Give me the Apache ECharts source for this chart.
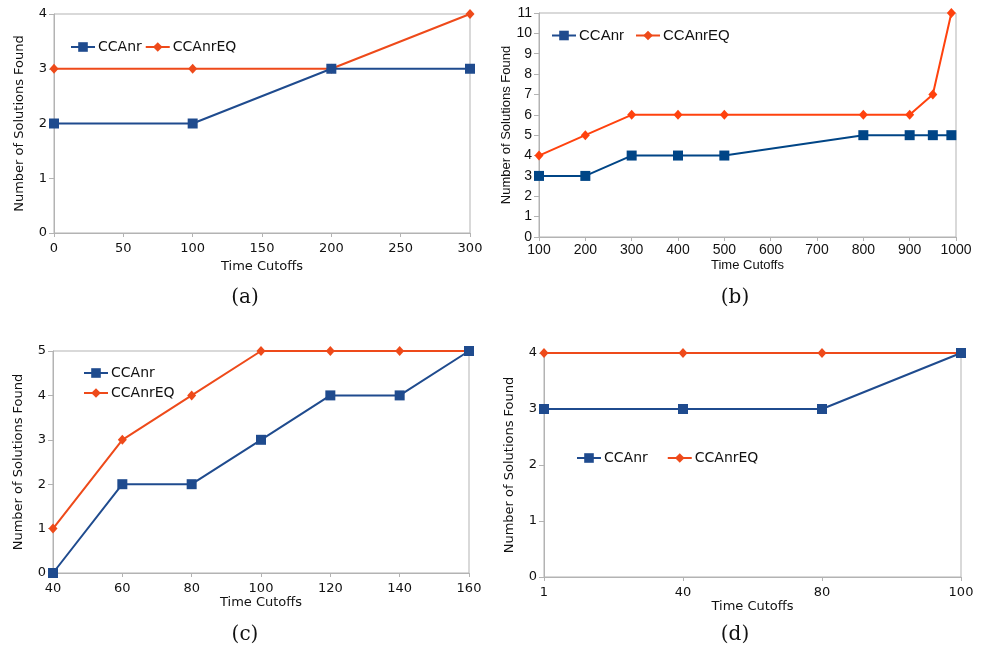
<!DOCTYPE html>
<html>
<head>
<meta charset="utf-8">
<script src="https://cdn.jsdelivr.net/npm/echarts@6/dist/echarts.min.js"></script>
<style>
  html, body { margin: 0; padding: 0; background: #ffffff; }
  #main { width: 984px; height: 648px; }
</style>
</head>
<body>
<div id="main"></div>
<script>
// (a)
const aTime = [0, 100, 200, 300];
const aCCAnr = [2, 2, 3, 3];
const aCCAnrEQ = [3, 3, 3, 4];
// (b)
const bTime = [100, 200, 300, 400, 500, 800, 900, 950, 990];
const bCCAnr = [3, 3, 4, 4, 4, 5, 5, 5, 5];
const bCCAnrEQ = [4, 5, 6, 6, 6, 6, 6, 7, 11];
// (c)
const cTime = [40, 60, 80, 100, 120, 140, 160];
const cCCAnr = [0, 2, 2, 3, 4, 4, 5];
const cCCAnrEQ = [1, 3, 4, 5, 5, 5, 5];
// (d) categories, evenly spaced
const dTime = ["1", "40", "80", "100"];
const dCCAnr = [3, 3, 3, 4];
const dCCAnrEQ = [4, 4, 4, 4];

const captions = ["(a)", "(b)", "(c)", "(d)"];

const chart = echarts.init(document.getElementById("main"));

const dejavu = "DejaVu Sans";
const libera = "Liberation Sans";
const gray = "#b3b3b3";
const ink = "#111111";

// colours differ slightly between panels
const blueA = "#1f4b8e", redA = "#ee4a1a";
const blueB = "#004586", redB = "#ff420e";

function xy(time, vals) {
  return time.map((t, i) => [t, vals[i]]);
}

function mkSeries(name, idx, data, color, isEQ) {
  return {
    name: name,
    type: "line",
    xAxisIndex: idx,
    yAxisIndex: idx,
    data: data,
    symbol: isEQ ? "diamond" : "rect",
    symbolSize: isEQ ? [9, 10] : 10,
    lineStyle: { color: color, width: 2 },
    itemStyle: { color: color },
    animation: false,
    z: isEQ ? 2 : 3,
  };
}

function yAx(idx, max, font) {
  return {
    gridIndex: idx,
    type: "value",
    min: 0,
    max: max,
    interval: 1,
    name: "Number of Solutions Found",
    nameLocation: "middle",
    nameGap: font === libera ? 22 : 28,
    nameTextStyle: { fontFamily: font, fontSize: 13, color: ink },
    axisLine: { show: true, lineStyle: { color: gray } },
    axisTick: { show: true, length: 5, lineStyle: { color: gray } },
    axisLabel: { fontFamily: font, fontSize: font === libera ? 14 : 13, color: ink, margin: 7 },
    splitLine: { show: false },
  };
}

function xAx(idx, cfg, font, gap, margin) {
  return Object.assign({
    gridIndex: idx,
    name: "Time Cutoffs",
    nameLocation: "middle",
    nameGap: gap,
    nameTextStyle: { fontFamily: font, fontSize: 13, color: ink },
    axisLine: { show: true, lineStyle: { color: gray } },
    axisTick: { show: true, length: 4, lineStyle: { color: gray } },
    axisLabel: {
      fontFamily: font,
      fontSize: font === libera ? 14 : 13,
      color: ink,
      margin: margin,
      formatter: (v) => String(v),
    },
    splitLine: { show: false },
  }, cfg);
}

function legendAt(left, top, font, size, gap, orient) {
  return {
    data: ["CCAnr", "CCAnrEQ"],
    left: left,
    top: top,
    orient: orient || "horizontal",
    itemWidth: 24,
    itemHeight: 12,
    itemGap: gap,
    selectedMode: false,
    textStyle: { fontFamily: font, fontSize: size, color: ink, padding: [0, 0, 0, -2] },
    padding: 0,
  };
}

const option = {
  backgroundColor: "#ffffff",
  animation: false,
  grid: [
    { left: 54, right: 514, top: 14, bottom: 415, show: true, borderColor: gray, borderWidth: 1 },
    { left: 539, right: 28, top: 13, bottom: 411, show: true, borderColor: gray, borderWidth: 1 },
    { left: 53, right: 515, top: 351, bottom: 75, show: true, borderColor: gray, borderWidth: 1 },
    { left: 544, right: 23, top: 353, bottom: 71, show: true, borderColor: gray, borderWidth: 1 },
  ],
  xAxis: [
    xAx(0, { type: "value", min: 0, max: 300, interval: 50 }, dejavu, 27, 9),
    xAx(1, { type: "value", min: 100, max: 1000, interval: 100 }, libera, 22, 6),
    xAx(2, { type: "value", min: 40, max: 160, interval: 20 }, dejavu, 22, 9),
    xAx(3, { type: "category", data: dTime, boundaryGap: false }, dejavu, 16, 9),
  ],
  yAxis: [
    yAx(0, 4, dejavu),
    yAx(1, 11, libera),
    yAx(2, 5, dejavu),
    yAx(3, 4, dejavu),
  ],
  legend: [
    legendAt(70, 40, dejavu, 14, 3),
    legendAt(551, 28, libera, 15, 11),
    legendAt(83, 366, dejavu, 14, 6, "vertical"),
    legendAt(576, 451, dejavu, 14, 19),
  ],
  series: [
    mkSeries("CCAnr", 0, xy(aTime, aCCAnr), blueA, false),
    mkSeries("CCAnrEQ", 0, xy(aTime, aCCAnrEQ), redA, true),
    mkSeries("CCAnr", 1, xy(bTime, bCCAnr), blueB, false),
    mkSeries("CCAnrEQ", 1, xy(bTime, bCCAnrEQ), redB, true),
    mkSeries("CCAnr", 2, xy(cTime, cCCAnr), blueA, false),
    mkSeries("CCAnrEQ", 2, xy(cTime, cCCAnrEQ), redA, true),
    mkSeries("CCAnr", 3, dCCAnr, blueA, false),
    mkSeries("CCAnrEQ", 3, dCCAnrEQ, redA, true),
  ],
  graphic: [
    [245, 298], [735, 298], [245, 635], [735, 635]
  ].map((p, i) => ({
    type: "text",
    x: p[0],
    y: p[1],
    style: {
      text: captions[i],
      font: "20px 'DejaVu Serif'",
      fill: ink,
      align: "center",
      verticalAlign: "middle",
    },
  })),
};

chart.setOption(option);
</script>
</body>
</html>
